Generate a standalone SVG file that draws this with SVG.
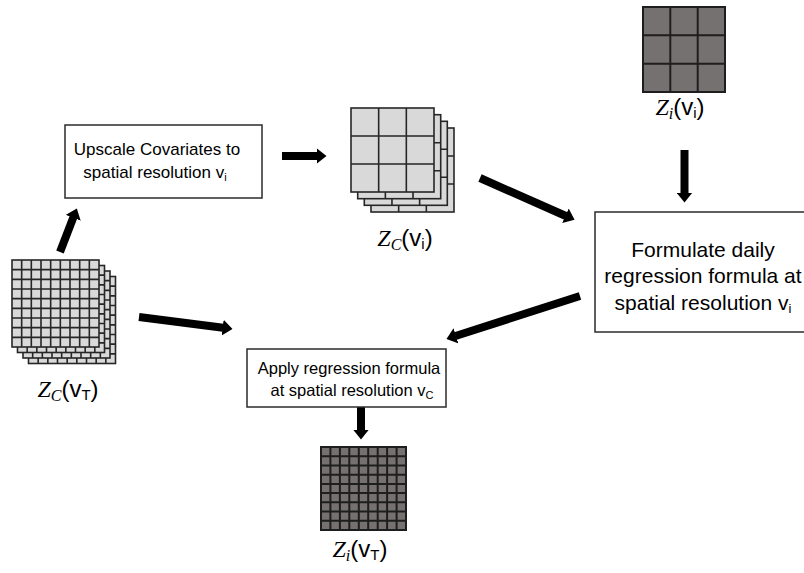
<svg xmlns="http://www.w3.org/2000/svg" xmlns:xlink="http://www.w3.org/1999/xlink" width="804" height="573" viewBox="0 0 804 573">
  <style>
    .box { fill: #ffffff; stroke: #2b2b2b; stroke-width: 1.5; }
    .lbl { font-family: "Liberation Sans", Arial, sans-serif; fill: #000; text-anchor: middle; }
    .math { font-family: "Liberation Serif", "DejaVu Serif", serif; font-style: italic; }
    .sans { font-family: "Liberation Sans", Arial, sans-serif; font-style: normal; }
    .cov { fill: #d9d9d9; stroke: #262626; stroke-width: 1.6; }
    .obs { fill: #767171; stroke: #1e1e1e; stroke-width: 2; }
    .gl { fill: none; stroke: #262626; stroke-width: 1.6; }
    .gd { fill: none; stroke: #1e1e1e; stroke-width: 2; }
    .arrow { stroke: #000; stroke-width: 8; fill: none; marker-end: url(#head); }
  </style>
  <defs>
    <marker id="head" markerUnits="userSpaceOnUse" viewBox="0 0 10 16" markerWidth="10" markerHeight="16" refX="0.5" refY="8" orient="auto">
      <path d="M0,0 L10,8 L0,16 z" fill="#000"/>
    </marker>
    <!-- 9x9 light covariate tile, 87 px -->
    <g id="fineCov">
      <rect class="cov" x="0" y="0" width="87" height="87"/>
      <path class="gl" d="M9.67,0V87M19.33,0V87M29,0V87M38.67,0V87M48.33,0V87M58,0V87M67.67,0V87M77.33,0V87
                          M0,9.67H87M0,19.33H87M0,29H87M0,38.67H87M0,48.33H87M0,58H87M0,67.67H87M0,77.33H87"/>
    </g>
    <!-- 3x3 light covariate tile, 83 px -->
    <g id="coarseCov">
      <rect class="cov" x="0" y="0" width="83" height="84"/>
      <path class="gl" d="M27.67,0V84M55.33,0V84M0,28H83M0,56H83"/>
    </g>
  </defs>

  <!-- connectors -->
  <g id="connectors">
    <line class="arrow" x1="60" y1="252" x2="73.4" y2="217.3"/>
    <line class="arrow" x1="282" y1="156" x2="317" y2="156"/>
    <line class="arrow" x1="480" y1="178" x2="565.9" y2="216"/>
    <line class="arrow" x1="684.5" y1="150" x2="684.5" y2="193"/>
    <line class="arrow" x1="139" y1="317" x2="223.1" y2="327.7"/>
    <line class="arrow" x1="580" y1="296" x2="455.5" y2="336"/>
    <line class="arrow" x1="361" y1="403" x2="361" y2="430"/>
  </g>

  <!-- Upscale step -->
  <g id="upscale">
    <rect class="box" x="65" y="125" width="197" height="73"/>
    <text class="lbl" font-size="17" x="157" y="155">Upscale Covariates to</text>
    <text class="lbl" font-size="17" x="155" y="178">spatial resolution v<tspan font-size="11" dy="3">i</tspan></text>
  </g>

  <!-- Formulate step -->
  <g id="formulate">
    <rect class="box" x="595" y="212" width="220" height="120"/>
    <text class="lbl" font-size="21" x="703" y="257">Formulate daily</text>
    <text class="lbl" font-size="21" x="703" y="283">regression formula at</text>
    <text class="lbl" font-size="21" x="703" y="310">spatial resolution v<tspan font-size="13" dy="3">i</tspan></text>
  </g>

  <!-- Apply step -->
  <g id="apply">
    <rect class="box" x="247" y="349" width="199" height="58"/>
    <text class="lbl" font-size="16.5" x="349" y="374">Apply regression formula</text>
    <text class="lbl" font-size="16.5" x="352" y="396">at spatial resolution v<tspan font-size="11" dy="3">C</tspan></text>
  </g>

  <!-- Covariates at target resolution -->
  <g id="zc-vt">
    <use xlink:href="#fineCov" x="28.5" y="276.5"/>
    <use xlink:href="#fineCov" x="23" y="271"/>
    <use xlink:href="#fineCov" x="17.5" y="265.5"/>
    <use xlink:href="#fineCov" x="12" y="260"/>
    <text class="lbl math" font-size="24" x="68" y="397">Z<tspan font-size="16" dy="4">C</tspan><tspan class="sans" dy="-4">(v</tspan><tspan class="sans" font-size="15" dy="3">T</tspan><tspan class="sans" dy="-3">)</tspan></text>
  </g>

  <!-- Covariates upscaled -->
  <g id="zc-vi">
    <use xlink:href="#coarseCov" x="371" y="128"/>
    <use xlink:href="#coarseCov" x="364.3" y="121.3"/>
    <use xlink:href="#coarseCov" x="357.7" y="114.7"/>
    <use xlink:href="#coarseCov" x="351" y="108"/>
    <text class="lbl math" font-size="24" x="405" y="246">Z<tspan font-size="16" dy="4">C</tspan><tspan class="sans" dy="-4">(v</tspan><tspan class="sans" font-size="15" dy="3">i</tspan><tspan class="sans" dy="-3">)</tspan></text>
  </g>

  <!-- Observations at coarse resolution -->
  <g id="zi-vi">
    <rect class="obs" x="643" y="7" width="82" height="85"/>
    <path class="gd" d="M670.3,7V92M697.7,7V92M643,35.3H725M643,63.7H725"/>
    <text class="lbl math" font-size="24" x="680" y="115">Z<tspan font-size="16" dy="4">i</tspan><tspan class="sans" dy="-4">(v</tspan><tspan class="sans" font-size="15" dy="3">i</tspan><tspan class="sans" dy="-3">)</tspan></text>
  </g>

  <!-- Downscaled result -->
  <g id="zi-vt">
    <rect class="obs" x="321" y="447" width="85" height="83"/>
    <path class="gd" d="M330.4,447V530M339.9,447V530M349.3,447V530M358.8,447V530M368.2,447V530M377.7,447V530M387.1,447V530M396.6,447V530
                        M321,456.2H406M321,465.4H406M321,474.7H406M321,483.9H406M321,493.1H406M321,502.3H406M321,511.6H406M321,520.8H406"/>
    <text class="lbl math" font-size="24" x="360" y="557">Z<tspan font-size="16" dy="4">i</tspan><tspan class="sans" dy="-4">(v</tspan><tspan class="sans" font-size="15" dy="3">T</tspan><tspan class="sans" dy="-3">)</tspan></text>
  </g>
</svg>
